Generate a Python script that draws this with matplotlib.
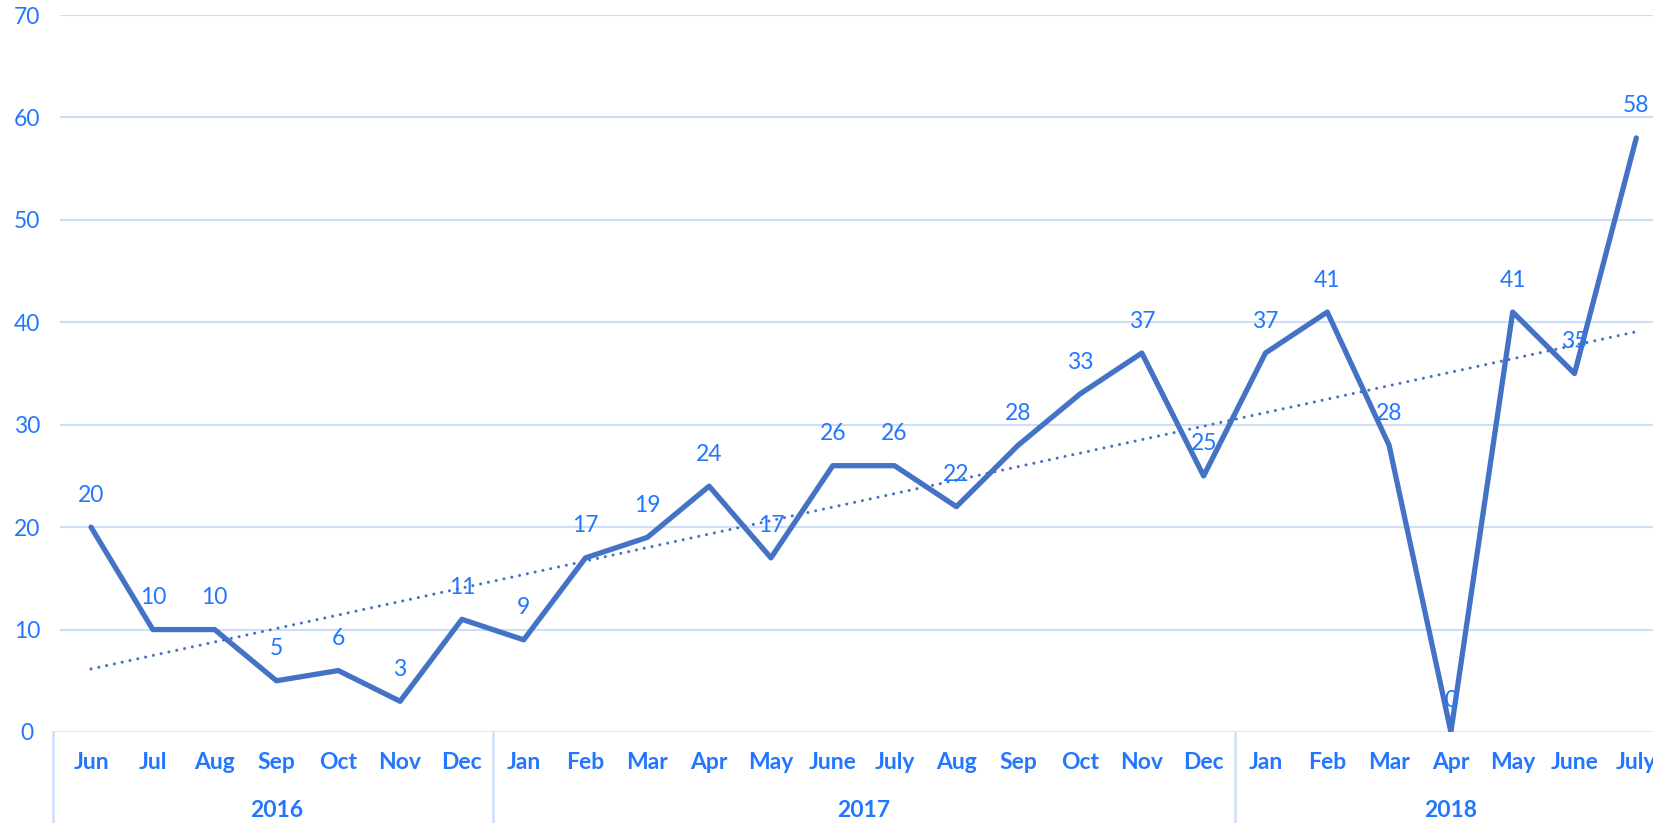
import numpy as np
import matplotlib.pyplot as plt

# monthly counts, Jun 2016 .. July 2018
months = ["Jun", "Jul", "Aug", "Sep", "Oct", "Nov", "Dec",
          "Jan", "Feb", "Mar", "Apr", "May", "June", "July", "Aug", "Sep", "Oct", "Nov", "Dec",
          "Jan", "Feb", "Mar", "Apr", "May", "June", "July"]
values = [20, 10, 10, 5, 6, 3, 11,
          9, 17, 19, 24, 17, 26, 26, 22, 28, 33, 37, 25,
          37, 41, 28, 0, 41, 35, 58]
years = ["2016", "2017", "2018"]
year_spans = [(-0.5, 6.5), (6.5, 18.5), (18.5, 25.5)]

LINE = "#4472C4"
TEXT = "#2276FF"
GRID = "#CFDEF8"
plt.rcParams["font.family"] = ["Lato", "DejaVu Sans"]

fig = plt.figure(figsize=(16.53, 8.23), dpi=100)
W, H = 1653, 823
ax = fig.add_axes([53 / W, (H - 732) / H, (W - 53) / W, (732 - 15) / H])

x = np.arange(len(values))
ax.set_xlim(-0.615, 25.27)
ax.set_ylim(0, 70)

# gridlines
ax.hlines(np.arange(10, 71, 10), -0.5, 26, color=GRID, lw=1.5, zorder=0)
ax.axhline(0, color=GRID, lw=1.8, zorder=0)

# main line
ax.plot(x, values, color=LINE, lw=3.8, solid_joinstyle="round", solid_capstyle="round", zorder=3)

# linear trend
k, b = np.polyfit(x, values, 1)
ax.plot(x, k * x + b, color=LINE, lw=2.2, linestyle=(0, (0.01, 2.6)),
        dash_capstyle="round", zorder=2)

for xi, v in zip(x, values):
    ax.annotate(str(v), (xi, v), xytext=(0, 23), textcoords="offset points",
                ha="center", va="center", color=TEXT, fontsize=16.5, zorder=4)

for s in ax.spines.values():
    s.set_visible(False)
ax.set_xticks([])
ax.set_yticks(np.arange(0, 71, 10))
ax.tick_params(axis="y", length=0, pad=18.5, labelsize=16.5, labelcolor=TEXT)
for t in ax.get_yticklabels():
    t.set_ha("center")

# category axis with month / year levels
tr = ax.get_xaxis_transform()
for xi, m in zip(x, months):
    ax.text(xi, -0.0432, m, transform=tr, ha="center", va="center",
            color=TEXT, fontsize=16.5, fontweight="bold")
for yr, (a, c) in zip(years, year_spans):
    ax.text((a + c) / 2, -0.1088, yr, transform=tr, ha="center", va="center",
            color=TEXT, fontsize=16.5, fontweight="bold")
ax.plot([0, 0], [0, -0.13], transform=ax.transAxes, color=GRID, lw=1.8, clip_on=False)
for sep in [6.5, 18.5]:
    ax.plot([sep, sep], [0, -0.13], transform=tr, color=GRID, lw=1.8, clip_on=False)

fig.savefig("out.png", dpi=100)
